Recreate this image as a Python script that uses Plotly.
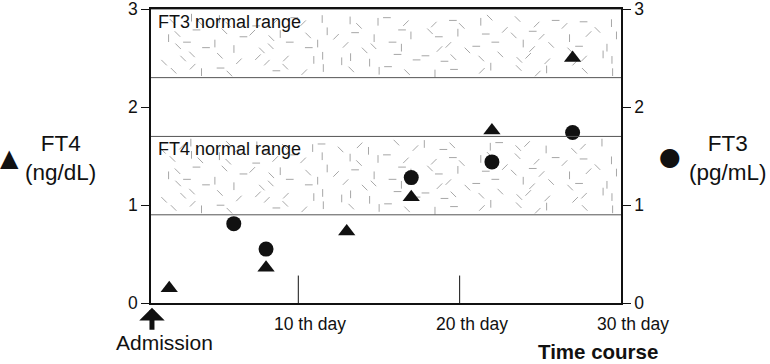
import plotly.graph_objects as go

# ---- data ----
ft4_days = [2, 8, 13, 17, 22, 27]
ft4_values = [0.15, 0.36, 0.73, 1.08, 1.76, 2.50]

ft3_days = [6, 8, 17, 22, 27]
ft3_values = [0.81, 0.55, 1.28, 1.44, 1.74]

ft4_normal = (0.9, 1.7)
ft3_normal = (2.3, 3.0)

y_ticks = [0, 1, 2, 3]
day_ticks = [10, 20, 30]
day_labels = ["10 th day", "20 th day", "30 th day"]
admission_day = 0.93

x_range = [0.87, 30.0]
y_range = [0, 3.0005]

FONT = "Liberation Sans, Arial, Helvetica, sans-serif"

fig = go.Figure()

# ---- speckled texture for the normal-range bands (decoration) ----
symbols = ["line-ew", "line-ns", "line-ne", "line-nw"]
for (lo, hi) in [ft4_normal, ft3_normal]:
    tx, ty, ts = [], [], []
    ny = int((hi - lo) / 0.125)
    nx = int((x_range[1] - x_range[0]) / 0.9)
    for j in range(ny):
        for i in range(nx):
            if (i * 5 + j * 3) % 6 == 0:
                continue
            x = x_range[0] + 0.5 + i * 0.9 + (j % 2) * 0.45 + (((i * 13 + j * 29) % 9) - 4) * 0.07
            y = lo + 0.07 + j * 0.125 + (((i * 17 + j * 7) % 7) - 3) * 0.014
            if x >= x_range[1] - 0.25 or y >= hi - 0.035 or y <= lo + 0.03:
                continue
            tx.append(x)
            ty.append(y)
            ts.append(symbols[(i * 7 + j * 11 + (i * j) % 5) % 4])
    fig.add_trace(go.Scatter(
        x=tx, y=ty, mode="markers", hoverinfo="skip", showlegend=False,
        marker=dict(symbol=ts, size=5.5, color="#888",
                    line=dict(color="#888", width=0.75)),
    ))

# ---- data traces ----
fig.add_trace(go.Scatter(
    x=ft4_days, y=ft4_values, mode="markers", name="FT4", showlegend=False,
    marker=dict(symbol="triangle-up", size=15, color="#111"),
    cliponaxis=False,
))
fig.add_trace(go.Scatter(
    x=ft3_days, y=ft3_values, mode="markers", name="FT3", showlegend=False,
    marker=dict(symbol="circle", size=15, color="#111"),
    yaxis="y2", cliponaxis=False,
))

shapes = []
# band boundaries
for (lo, hi) in [ft4_normal, ft3_normal]:
    for v in (lo, hi):
        shapes.append(dict(type="line", xref="paper", yref="y", x0=0, x1=1, y0=v, y1=v,
                           line=dict(color="#555", width=1)))
# short day marker lines
for d in day_ticks[:-1]:
    shapes.append(dict(type="line", xref="x", yref="y", x0=d, x1=d, y0=0, y1=0.28,
                       line=dict(color="#111", width=1)))

annotations = []
# band labels
for lab, band in [("FT4 normal range", ft4_normal), ("FT3 normal range", ft3_normal)]:
    annotations.append(dict(text=lab, xref="paper", yref="y", x=0, y=band[1],
                            xanchor="left", yanchor="top", xshift=5, yshift=-1, showarrow=False,
                            font=dict(size=18, color="#111", family=FONT)))
# day labels
for d, lab in zip(day_ticks, day_labels):
    annotations.append(dict(text=lab, xref="x", yref="paper", x=d, y=-0.071, xshift=12,
                            xanchor="center", yanchor="middle", showarrow=False,
                            font=dict(size=17.5, color="#111", family=FONT)))
# admission arrow + label
annotations.append(dict(text=" ", xref="x", yref="paper", x=admission_day, y=-0.016,
                        ax=0, ay=24, showarrow=True, arrowhead=1, arrowsize=0.85,
                        arrowwidth=5, arrowcolor="#111", font=dict(size=1)))
annotations.append(dict(text="Admission", xref="paper", yref="paper", x=0.028, y=-0.136,
                        xanchor="center", yanchor="middle", showarrow=False,
                        font=dict(size=21, color="#111", family=FONT)))
annotations.append(dict(text="<b>Time course</b>", xref="paper", yref="paper", x=0.95, y=-0.165,
                        xanchor="center", yanchor="middle", showarrow=False,
                        font=dict(size=20.5, color="#111", family=FONT)))
# axis titles with symbols
annotations.append(dict(text="FT4<br>(ng/dL)", xref="paper", yref="paper", x=-0.192, y=0.4915,
                        xanchor="center", yanchor="middle", showarrow=False,
                        font=dict(size=22.5, color="#111", family=FONT)))
annotations.append(dict(text="▲", xref="paper", yref="paper", x=-0.302, y=0.493,
                        xanchor="center", yanchor="middle", showarrow=False,
                        font=dict(size=24, color="#111", family="DejaVu Sans")))
annotations.append(dict(text="FT3<br>(pg/mL)", xref="paper", yref="paper", x=1.227, y=0.4915,
                        xanchor="center", yanchor="middle", showarrow=False,
                        font=dict(size=22.5, color="#111", family=FONT)))
annotations.append(dict(text="●", xref="paper", yref="paper", x=1.105, y=0.497,
                        xanchor="center", yanchor="middle", showarrow=False,
                        font=dict(size=25, color="#111", family="DejaVu Sans")))

axis_common = dict(range=y_range, tickvals=y_ticks, ticks="outside", ticklen=8,
                   tickwidth=1, tickcolor="#111", showline=True, linecolor="#111",
                   linewidth=1.5, showgrid=False, zeroline=False,
                   ticklabeloverflow="allow", automargin=False,
                   tickfont=dict(size=17.5, color="#111", family=FONT))

fig.update_layout(
    width=770, height=364,
    margin=dict(l=151, r=149, t=9, b=61, pad=0, autoexpand=False),
    paper_bgcolor="white", plot_bgcolor="white",
    showlegend=False,
    xaxis=dict(range=x_range, showline=True, mirror=True, linecolor="#111", linewidth=1.5,
               showticklabels=False, ticks="", showgrid=False, zeroline=False,
               automargin=False),
    yaxis=dict(side="left", **axis_common),
    yaxis2=dict(side="right", overlaying="y", **axis_common),
    shapes=shapes,
    annotations=annotations,
)

fig.write_html("out.html", config={"displayModeBar": False},
               post_script="document.body.style.margin='0';document.body.style.padding='0';")
